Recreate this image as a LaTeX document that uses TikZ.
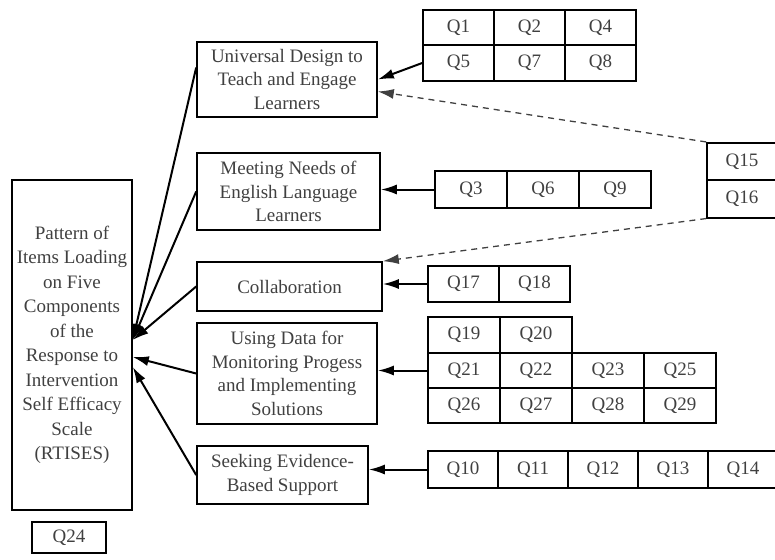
\documentclass[tikz,border=0pt]{standalone}
\usepackage{fontspec}
\setmainfont{Liberation Serif}
\usetikzlibrary{arrows.meta, positioning, calc}

\begin{document}
\begin{tikzpicture}[x=1pt, y=-1pt,
  >={Latex[length=16pt,width=10pt]},
  box/.style={draw, line width=1.6pt, inner sep=0pt, align=center, text=black!75,
    font=\fontsize{19}{23.5}\selectfont},
  cell/.style={box, minimum width=71pt, minimum height=35.5pt},
  load/.style={->, line width=2pt},
  cross/.style={->, line width=1.3pt, black!75, dash pattern=on 6pt off 5pt}]
\useasboundingbox (0,0) rectangle (775,559);

% Scale
\node[box, minimum width=120pt, minimum height=330pt, font=\fontsize{19}{24.5}\selectfont] (rtises) at (72,345)
  {Pattern of\\Items Loading\\on Five\\Components\\of the\\Response to\\Intervention\\Self Efficacy\\Scale\\(RTISES)};
\node[box, minimum width=74pt, minimum height=31pt] (q24) at (69,537.5) {Q24};

% Five components
\node[box, minimum width=180pt, minimum height=75pt] (udl) at (287,79.5) {Universal Design to\\Teach and Engage\\Learners};
\node[box, minimum width=183pt, minimum height=77pt] (ell) at (288.5,191.5) {Meeting Needs of\\English Language\\Learners};
\node[box, minimum width=185pt, minimum height=49pt] (collab) at (289.5,286.5) {Collaboration};
\node[box, minimum width=180pt, minimum height=101pt] (data) at (287,373.5) {Using Data for\\Monitoring Progess\\and Implementing\\Solutions};
\node[box, minimum width=171pt, minimum height=58pt] (ebs) at (282.5,475) {Seeking Evidence-\\Based Support};

% Items, row by row
\foreach \q [count=\i from 0] in {1,2,4} \node[cell] (q\q) at (458.5+71*\i,27.5) {Q\q};
\foreach \q [count=\i from 0] in {5,7,8} \node[cell] (q\q) at (458.5+71*\i,63) {Q\q};
\foreach \q [count=\i from 0] in {3,6,9} \node[cell, minimum width=72pt, minimum height=37pt] (q\q) at (471+72*\i,189.5) {Q\q};
\node[cell, minimum width=70pt, minimum height=37.5pt] (q15) at (742,161.5) {Q15};
\node[cell, minimum width=70pt, minimum height=37.5pt] (q16) at (742,199) {Q16};
\foreach \q [count=\i from 0] in {17,18} \node[cell, minimum height=36pt] (q\q) at (463.5+71*\i,284) {Q\q};
\foreach \q [count=\i from 0] in {19,20} \node[cell, minimum width=72pt] (q\q) at (464+72*\i,335) {Q\q};
\foreach \q [count=\i from 0] in {21,22,23,25} \node[cell, minimum width=72pt] (q\q) at (464+72*\i,370.5) {Q\q};
\foreach \q [count=\i from 0] in {26,27,28,29} \node[cell, minimum width=72pt] (q\q) at (464+72*\i,405.5) {Q\q};
\foreach \q [count=\i from 0] in {10,...,14} \node[cell, minimum width=70pt, minimum height=37pt] (q\q) at (463+70*\i,469.5) {Q\q};

% Items to components
\draw[load] (q5.west) -- (udl.east);
\draw[load] (q3.west) -- (q3.west -| ell.east);
\draw[load] (q17.west) -- (q17.west -| collab.east);
\draw[load] (q21.west) -- (q21.west -| data.east);
\draw[load] (q10.west) -- (q10.west -| ebs.east);

% Cross loadings
\draw[cross] (q15.north west) -- ([yshift=-12pt]udl.east);
\draw[cross] (q16.south west) -- (collab.north east);

% Components to scale
\draw[load] ([yshift=12pt]udl.west) -- ([yshift=5pt]rtises.east);
\draw[load] (ell.west) -- ([yshift=5pt]rtises.east);
\draw[load] (collab.west) -- ([yshift=5pt]rtises.east);
\draw[load] (data.west) -- ([yshift=-12pt]rtises.east);
\draw[load] (ebs.west) -- ([yshift=-22pt]rtises.east);
\end{tikzpicture}
\end{document}
